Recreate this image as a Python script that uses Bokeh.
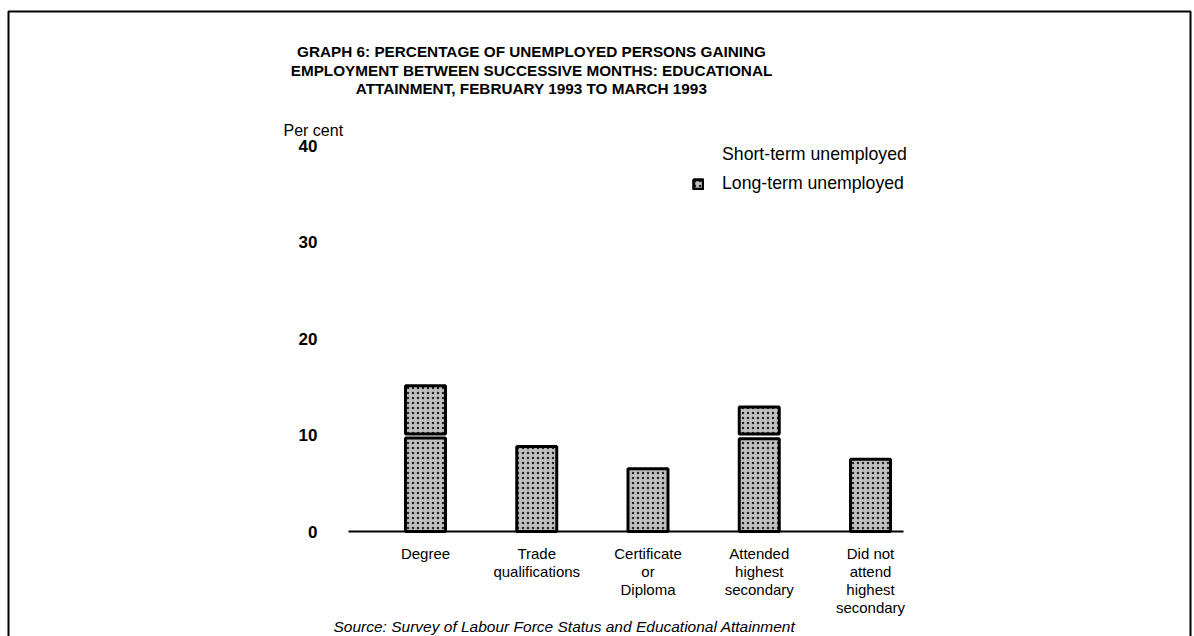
from bokeh.plotting import figure
from bokeh.models import (ColumnDataSource, FixedTicker, Range1d, Legend, LegendItem,
                          Label, BoxAnnotation)
from bokeh.embed import file_html
from bokeh.resources import INLINE
import numpy as np

# ---- data ----
categories = ["Degree", "Trade\nqualifications", "Certificate\nor\nDiploma",
              "Attended\nhighest\nsecondary", "Did not\nattend\nhighest\nsecondary"]
long_term = [9.7, 8.8, 6.5, 9.6, 7.5]
upper_bottom = [10.1, np.nan, np.nan, 10.1, np.nan]
upper_top = [15.1, np.nan, np.nan, 12.9, np.nan]
y_ticks = [0, 10, 20, 30, 40]
title_lines = ["GRAPH 6: PERCENTAGE OF UNEMPLOYED PERSONS GAINING",
               "EMPLOYMENT BETWEEN SUCCESSIVE MONTHS: EDUCATIONAL",
               "ATTAINMENT, FEBRUARY 1993 TO MARCH 1993"]
y_unit = "Per cent"
source_text = "Source: Survey of Labour Force Status and Educational Attainment"

xpos = list(range(1, len(categories) + 1))
FONT = "Liberation Sans"

# layout helpers: canvas pixel -> data coordinate
W, H = 1194, 636
X0, XS = 425.0, 111.25      # pixel x of first category, px per category
Y0, YS = 531.0, 9.65        # pixel y of value 0, px per unit
def px_x(px):
    return 1 + (px - X0) / XS
def px_y(py):
    return (Y0 - py) / YS

p = figure(width=W, height=H, output_backend="svg", toolbar_location=None,
           x_range=Range1d(px_x(0), px_x(W)), y_range=Range1d(px_y(H), px_y(0)),
           min_border=0, min_border_left=0, min_border_right=0,
           min_border_top=0, min_border_bottom=0, outline_line_color=None,
           background_fill_color="white", border_fill_color="white")
p.grid.visible = False

src_low = ColumnDataSource(dict(x=xpos, top=long_term))
src_up = ColumnDataSource(dict(x=xpos, bottom=upper_bottom, top=upper_top))

bar_style = dict(width=40 / XS, fill_color="#c0c0c0", hatch_pattern="dot",
                 hatch_color="#222222", hatch_scale=5, hatch_weight=1.4,
                 line_color="black", line_width=3)
r_long = p.vbar(x="x", top="top", bottom=0, source=src_low, **bar_style)
r_up = p.vbar(x="x", top="top", bottom="bottom", source=src_up, **bar_style)
r_short = p.vbar(x=[], top=[], width=40 / XS, fill_color="white", line_color=None)

# axes drawn inside the frame
xa = p.xaxis[0]
xa.fixed_location = 0
xa.bounds = (px_x(348), px_x(903))
xa.ticker = FixedTicker(ticks=xpos)
xa.major_label_overrides = {i: c for i, c in zip(xpos, categories)}
xa.major_tick_line_color = None
xa.minor_tick_line_color = None
xa.major_tick_out = 0
xa.major_tick_in = 0
xa.minor_tick_out = 0
xa.axis_line_width = 2
xa.major_label_standoff = 13
xa.major_label_text_font = FONT
xa.major_label_text_font_size = "15px"
xa.major_label_text_color = "black"
xa.major_label_text_line_height = 1.06

ya = p.yaxis[0]
ya.fixed_location = px_x(348)
ya.ticker = FixedTicker(ticks=y_ticks)
ya.axis_line_color = None
ya.major_tick_line_color = None
ya.minor_tick_line_color = None
ya.major_tick_out = 0
ya.major_tick_in = 0
ya.minor_tick_out = 0
ya.major_label_standoff = 31
ya.major_label_text_font = FONT
ya.major_label_text_font_size = "17px"
ya.major_label_text_font_style = "bold"
ya.major_label_text_color = "black"

# texts
for line, py in zip(title_lines, [51, 69.5, 88]):
    p.add_layout(Label(x=px_x(531), y=px_y(py), text=line, text_align="center",
                       text_baseline="middle", text_font=FONT, text_font_size="15.3px",
                       text_font_style="bold", text_color="black"))
p.add_layout(Label(x=px_x(283), y=px_y(130), text=y_unit, text_align="left",
                   text_baseline="middle", text_font=FONT, text_font_size="16px",
                   text_color="black"))
p.add_layout(Label(x=px_x(333), y=px_y(626), text=source_text, text_align="left",
                   text_baseline="middle", text_font=FONT, text_font_size="15.5px",
                   text_font_style="italic", text_color="black"))

# page border (scanned frame); its bottom edge lies below the visible area
p.add_layout(BoxAnnotation(left=px_x(8), right=px_x(1190), top=px_y(11), bottom=px_y(660),
                           fill_alpha=0, line_color="black", line_width=2, line_alpha=1))

legend = Legend(items=[LegendItem(label="Short-term unemployed", renderers=[r_short]),
                       LegendItem(label="Long-term unemployed", renderers=[r_long])],
                location=(692, 442), orientation="vertical",
                glyph_width=12, glyph_height=12, label_standoff=18,
                label_height=20, spacing=8, padding=0, margin=0,
                border_line_color=None, background_fill_alpha=0,
                label_text_font=FONT, label_text_font_size="17.7px",
                label_text_color="black")
p.add_layout(legend, "center")

open("out.html", "w").write(file_html(p, INLINE))
